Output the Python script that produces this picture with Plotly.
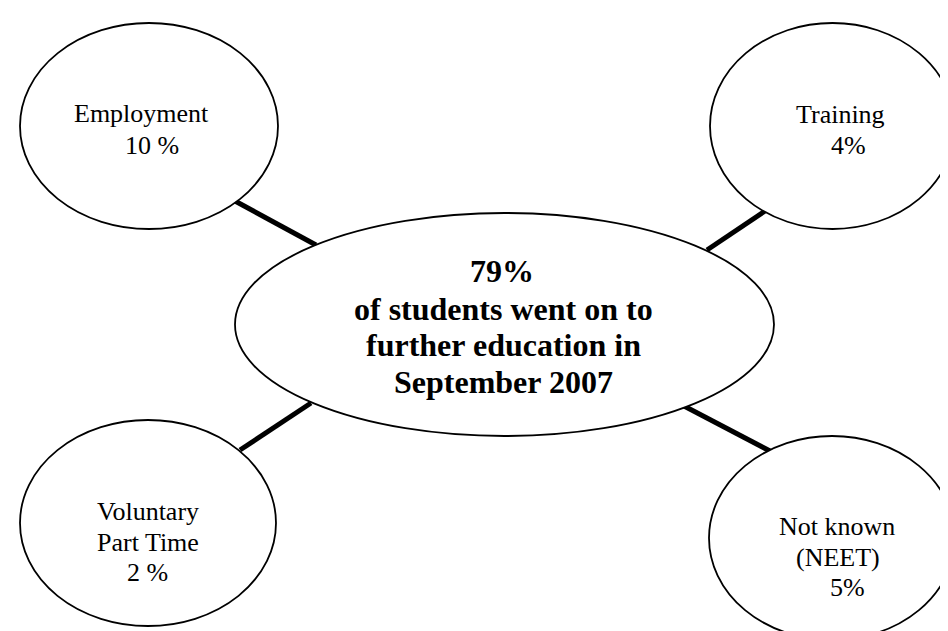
import plotly.graph_objects as go

# ---- data ----
center_value = 79
center_lines = ["of students went on to", "further education in", "September 2007"]
categories = ["Employment", "Training", "Voluntary Part Time", "Not known (NEET)"]
category_lines = [["Employment"], ["Training"], ["Voluntary", "Part Time"], ["Not known", "(NEET)"]]
values = [10, 4, 2, 5]
pct_format = ["{} %", "{}%", "{} %", "{}%"]

# ---- layout geometry (pixel coordinates, y downward) ----
W, H = 948, 631
center_box = (227, 205, 766, 428)
node_boxes = [(12, 15, 270, 221), (702, 15, 947, 221), (12, 412, 268, 618), (701, 428, 947, 632)]
connectors = [((227, 193), (308, 237)), ((757, 203), (699, 242)),
              ((303, 395), (232, 442)), ((676, 398), (762, 443))]
node_text_x = [[133, 144], [832, 840], [140, 140, 139], [829, 830, 839]]
node_text_base = [[114, 146], [115, 146], [512, 543, 573], [527, 558, 588]]
center_text_x = [494, 495, 495, 495]
center_text_base = [274, 312, 348, 385]

FONT = "Liberation Serif, Times New Roman, serif"
fig = go.Figure()
shapes = []
for (a, b) in connectors:
    shapes.append(dict(type="line", x0=a[0], y0=a[1], x1=b[0], y1=b[1],
                       line=dict(color="black", width=5), layer="below"))
for box in [center_box] + node_boxes:
    shapes.append(dict(type="circle", x0=box[0], y0=box[1], x1=box[2], y1=box[3],
                       line=dict(color="black", width=1.8), fillcolor="white", layer="above"))

annotations = []
small = 26
for i, lines in enumerate(category_lines):
    texts = lines + [pct_format[i].format(values[i])]
    for j, t in enumerate(texts):
        annotations.append(dict(x=node_text_x[i][j], y=node_text_base[i][j] - 0.33 * small,
                                text=t, showarrow=False, xanchor="center", yanchor="middle",
                                font=dict(family=FONT, size=small, color="black")))
big = 32
ctexts = [f"<b>{center_value}%</b>"] + [f"<b>{t}</b>" for t in center_lines]
for j, t in enumerate(ctexts):
    annotations.append(dict(x=center_text_x[j], y=center_text_base[j] - 0.33 * big,
                            text=t, showarrow=False, xanchor="center", yanchor="middle",
                            font=dict(family=FONT, size=big, color="black")))

fig.update_layout(
    width=W, height=H, margin=dict(l=0, r=0, t=0, b=0),
    paper_bgcolor="white", plot_bgcolor="white",
    xaxis=dict(range=[0, W], visible=False, fixedrange=True),
    yaxis=dict(range=[H, 0], visible=False, fixedrange=True),
    shapes=shapes, annotations=annotations, showlegend=False,
)
fig.write_html("out.html", config={"displayModeBar": False})
